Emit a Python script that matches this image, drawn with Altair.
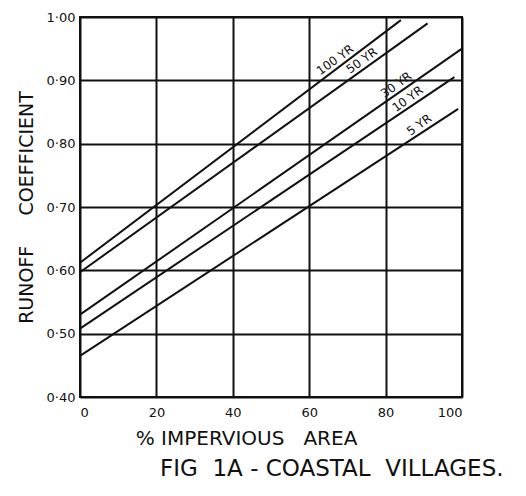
import altair as alt
import pandas as pd

# Design storm return periods and their straight runoff-coefficient lines
series = ["100 YR", "50 YR", "30 YR", "10 YR", "5 YR"]
x_start = [0, 0, 0, 0, 0]
c_start = [0.612, 0.597, 0.530, 0.508, 0.465]
x_end = [84, 91, 100, 98, 99]
c_end = [0.995, 0.990, 0.950, 0.905, 0.855]

# where each curve label sits along its line (% impervious)
label_x = [68, 75, 84, 87, 90]

x_ticks = [0, 20, 40, 60, 80, 100]
y_ticks = [0.40, 0.50, 0.60, 0.70, 0.80, 0.90, 1.00]

rows = []
for s, xa, ca, xb, cb in zip(series, x_start, c_start, x_end, c_end):
    rows.append({"series": s, "x": xa, "c": ca})
    rows.append({"series": s, "x": xb, "c": cb})
lines_df = pd.DataFrame(rows)

lab_rows = []
for s, xa, ca, xb, cb, lx in zip(series, x_start, c_start, x_end, c_end, label_x):
    lab_rows.append({"series": s, "x": lx, "c": ca + (cb - ca) * (lx - xa) / (xb - xa)})
labels_df = pd.DataFrame(lab_rows)

FONT = "DejaVu Sans"
INK = "#111111"
NB = "\u00a0"

xs = alt.Scale(domain=[0, 100], nice=False, zero=False)
ys = alt.Scale(domain=[0.40, 1.00], nice=False, zero=False)

x_axis = alt.Axis(
    values=x_ticks, title="%" + NB + "IMPERVIOUS" + NB * 3 + "AREA", grid=True, ticks=False, domain=False,
    labelPadding=9, labelFontSize=13, labelFont=FONT, labelColor=INK,
    titleFontSize=20, titleFont=FONT, titleFontWeight="normal", titleColor=INK,
    titlePadding=9, titleX=166, titleAnchor="start", titleAlign="center",
)
y_axis = alt.Axis(
    values=y_ticks, title="RUNOFF" + NB * 5 + "COEFFICIENT", grid=True, ticks=False, domain=False,
    labelExpr="replace(format(datum.value, '.2f'), '.', '·')",
    labelPadding=5, labelFontSize=13, labelFont=FONT, labelColor=INK,
    titleFontSize=19, titleFont=FONT, titleFontWeight="normal", titleColor=INK,
    titlePadding=10,
)

lines = alt.Chart(lines_df).mark_line(color=INK, strokeWidth=2).encode(
    x=alt.X("x:Q", scale=xs, axis=x_axis),
    y=alt.Y("c:Q", scale=ys, axis=y_axis),
    detail="series:N",
)

labels = alt.Chart(labels_df).mark_text(
    font=FONT, fontSize=12, color=INK, angle=324, align="center", baseline="bottom", dy=-1
).encode(
    x=alt.X("x:Q", scale=xs),
    y=alt.Y("c:Q", scale=ys),
    text="series:N",
)

chart = (
    alt.layer(lines, labels)
    .properties(
        width=382,
        height=380,
        autosize="none",
        background="white",
        padding={"left": 72, "top": 9, "right": 56, "bottom": 91},
        title=alt.TitleParams(
            text="FIG" + NB * 2 + "1A" + NB + "-" + NB + "COASTAL" + NB * 2 + "VILLAGES.",
            orient="bottom", anchor="start", frame="group",
            dx=80, offset=10, fontSize=23, font=FONT, fontWeight="normal", color=INK,
        ),
    )
    .configure_view(stroke=INK, strokeWidth=2)
    .configure_axis(gridColor=INK, gridWidth=2, gridOpacity=1)
)

chart.save("out.html", embed_options={"renderer": "svg", "actions": False})
